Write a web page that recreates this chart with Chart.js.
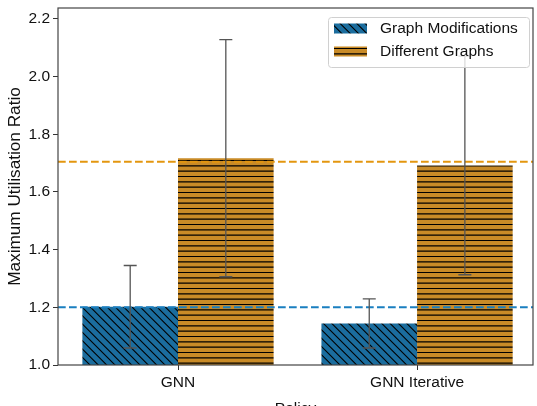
<!DOCTYPE html>
<html>
<head>
<meta charset="utf-8">
<script src="https://cdn.jsdelivr.net/npm/chart.js@4.4.1/dist/chart.umd.min.js"></script>
<style>
  html, body { margin: 0; padding: 0; background: #fff; }
  #wrap { width: 537px; height: 406px; }
</style>
</head>
<body>
<div id="wrap"><canvas id="chart"></canvas></div>
<script>
const policies = ['GNN', 'GNN Iterative'];
const modValues = [1.202, 1.144];
const modErrors = [0.143, 0.085];
const diffValues = [1.717, 1.692];
const diffErrors = [0.411, 0.379];
const refValues = [1.705, 1.2];   // dashed reference levels: orange, blue
const yTicks = [1.0, 1.2, 1.4, 1.6, 1.8, 2.0, 2.2];

const blueBar = '#1b6d9e';
const orangeBar = '#c98b27';
const blueLine = '#1a7fc0';
const orangeLine = '#e3960f';
const textColor = '#111';
const family = '"Liberation Sans", Arial, sans-serif';

// hatch fills, drawn once into a small tile
function hatch(color, kind) {
    const c = document.createElement('canvas');
    const s = kind === 'diag' ? 25 : 16;
    c.width = s; c.height = s;
    const g = c.getContext('2d');
    g.fillStyle = color;
    g.fillRect(0, 0, s, s);
    g.strokeStyle = '#000';
    g.lineWidth = 1.1;
    g.beginPath();
    if (kind === 'diag') {
        for (let k = -3; k <= 3; k++) {
            const o = k * s / 3;
            g.moveTo(o - 1, -1);
            g.lineTo(o + s + 1, s + 1);
        }
    } else {
        for (let k = 0; k < 3; k++) {
            const y = k * s / 3 + 0.5;
            g.moveTo(0, y);
            g.lineTo(s, y);
        }
    }
    g.stroke();
    return g.createPattern(c, 'repeat');
}

// dashed reference levels, error bars and the axes frame
const overlays = {
    id: 'overlays',
    afterDatasetsDraw(chart) {
        const { ctx, chartArea: a, scales: { y } } = chart;
        ctx.save();
        ctx.lineWidth = 2;
        ctx.setLineDash([7.7, 3.3]);
        [orangeLine, blueLine].forEach((col, i) => {
            const py = y.getPixelForValue(refValues[i]);
            ctx.strokeStyle = col;
            ctx.beginPath();
            ctx.moveTo(a.left, py);
            ctx.lineTo(a.right, py);
            ctx.stroke();
        });
        ctx.setLineDash([]);

        ctx.strokeStyle = '#555';
        ctx.lineWidth = 1.3;
        chart.data.datasets.forEach((ds, di) => {
            if (!ds.errors) return;
            chart.getDatasetMeta(di).data.forEach((bar, i) => {
                const v = ds.data[i].y, e = ds.errors[i];
                const top = y.getPixelForValue(v + e);
                const bot = y.getPixelForValue(v - e);
                ctx.beginPath();
                ctx.moveTo(bar.x, top); ctx.lineTo(bar.x, bot);
                ctx.moveTo(bar.x - 6.5, top); ctx.lineTo(bar.x + 6.5, top);
                ctx.moveTo(bar.x - 6.5, bot); ctx.lineTo(bar.x + 6.5, bot);
                ctx.stroke();
            });
        });

        ctx.strokeStyle = '#444';
        ctx.lineWidth = 1.2;
        ctx.strokeRect(a.left, a.top, a.right - a.left, a.bottom - a.top);
        ctx.restore();
    }
};

// legend inside the axes, drawn last so it covers the error bars
const boxLegend = {
    id: 'boxLegend',
    afterDraw(chart) {
        const { ctx, chartArea: a } = chart;
        const items = chart.data.datasets;
        const w = 201, h = 50;
        const x0 = a.right - 4 - w, y0 = a.top + 9;
        ctx.save();
        ctx.fillStyle = 'rgba(255,255,255,0.8)';
        ctx.strokeStyle = '#d0d0d0';
        ctx.lineWidth = 1;
        ctx.beginPath();
        ctx.roundRect(x0 + 0.5, y0 + 0.5, w, h, 3);
        ctx.fill();
        ctx.stroke();
        ctx.font = '15.5px ' + family;
        ctx.textBaseline = 'middle';
        items.forEach((d, i) => {
            const cy = y0 + 11.5 + i * 23;
            ctx.fillStyle = d.backgroundColor;
            ctx.fillRect(x0 + 6, cy - 5, 33, 10);
            ctx.fillStyle = textColor;
            ctx.fillText(d.label, x0 + 52, cy);
        });
        ctx.restore();
    }
};

const tickFont = { family: family, size: 15.5 };

const ctx = document.getElementById('chart').getContext('2d');
new Chart(ctx, {
    type: 'bar',
    data: {
        datasets: [
            {
                label: 'Graph Modifications',
                data: policies.map((p, i) => ({ x: i, y: modValues[i] })),
                errors: modErrors,
                backgroundColor: hatch(blueBar, 'diag'),
                borderWidth: 0
            },
            {
                label: 'Different Graphs',
                data: policies.map((p, i) => ({ x: i, y: diffValues[i] })),
                errors: diffErrors,
                backgroundColor: hatch(orangeBar, 'horiz'),
                borderWidth: 0
            }
        ]
    },
    options: {
        responsive: true,
        maintainAspectRatio: false,
        animation: false,
        layout: { padding: { top: 8, right: 4, left: 0, bottom: 0 } },
        datasets: { bar: { categoryPercentage: 0.8, barPercentage: 1.0 } },
        plugins: { legend: { display: false }, tooltip: { enabled: false } },
        scales: {
            x: {
                type: 'linear', min: -0.502, max: 1.485, offset: false,
                afterBuildTicks: s => { s.ticks = policies.map((p, i) => ({ value: i })); },
                ticks: { stepSize: 1, callback: v => policies[v], font: tickFont, color: textColor, padding: 3, autoSkip: false, maxRotation: 0 },
                grid: { drawOnChartArea: false, drawTicks: true, tickLength: 5, color: '#333', offset: false },
                border: { display: false },
                title: { display: true, text: 'Policy', font: tickFont, color: textColor, padding: { top: 0, bottom: -12 } },
                afterFit: s => { s.height = 41; s.paddingLeft = 0; s.paddingRight = 0; }
            },
            y: {
                min: 1.0, max: 2.238,
                afterBuildTicks: s => { s.ticks = yTicks.map(v => ({ value: v })); },
                ticks: { callback: v => v.toFixed(1), font: tickFont, color: textColor, padding: 3 },
                grid: { drawOnChartArea: false, drawTicks: true, tickLength: 5, color: '#333' },
                border: { display: false },
                title: { display: true, text: 'Maximum Utilisation Ratio', font: { family: family, size: 17.2 }, color: textColor, padding: { top: 5, bottom: 0 } },
                afterFit: s => { s.width = 58; s.paddingTop = 0; s.paddingBottom = 0; }
            }
        }
    },
    plugins: [overlays, boxLegend]
});
</script>
</body>
</html>
